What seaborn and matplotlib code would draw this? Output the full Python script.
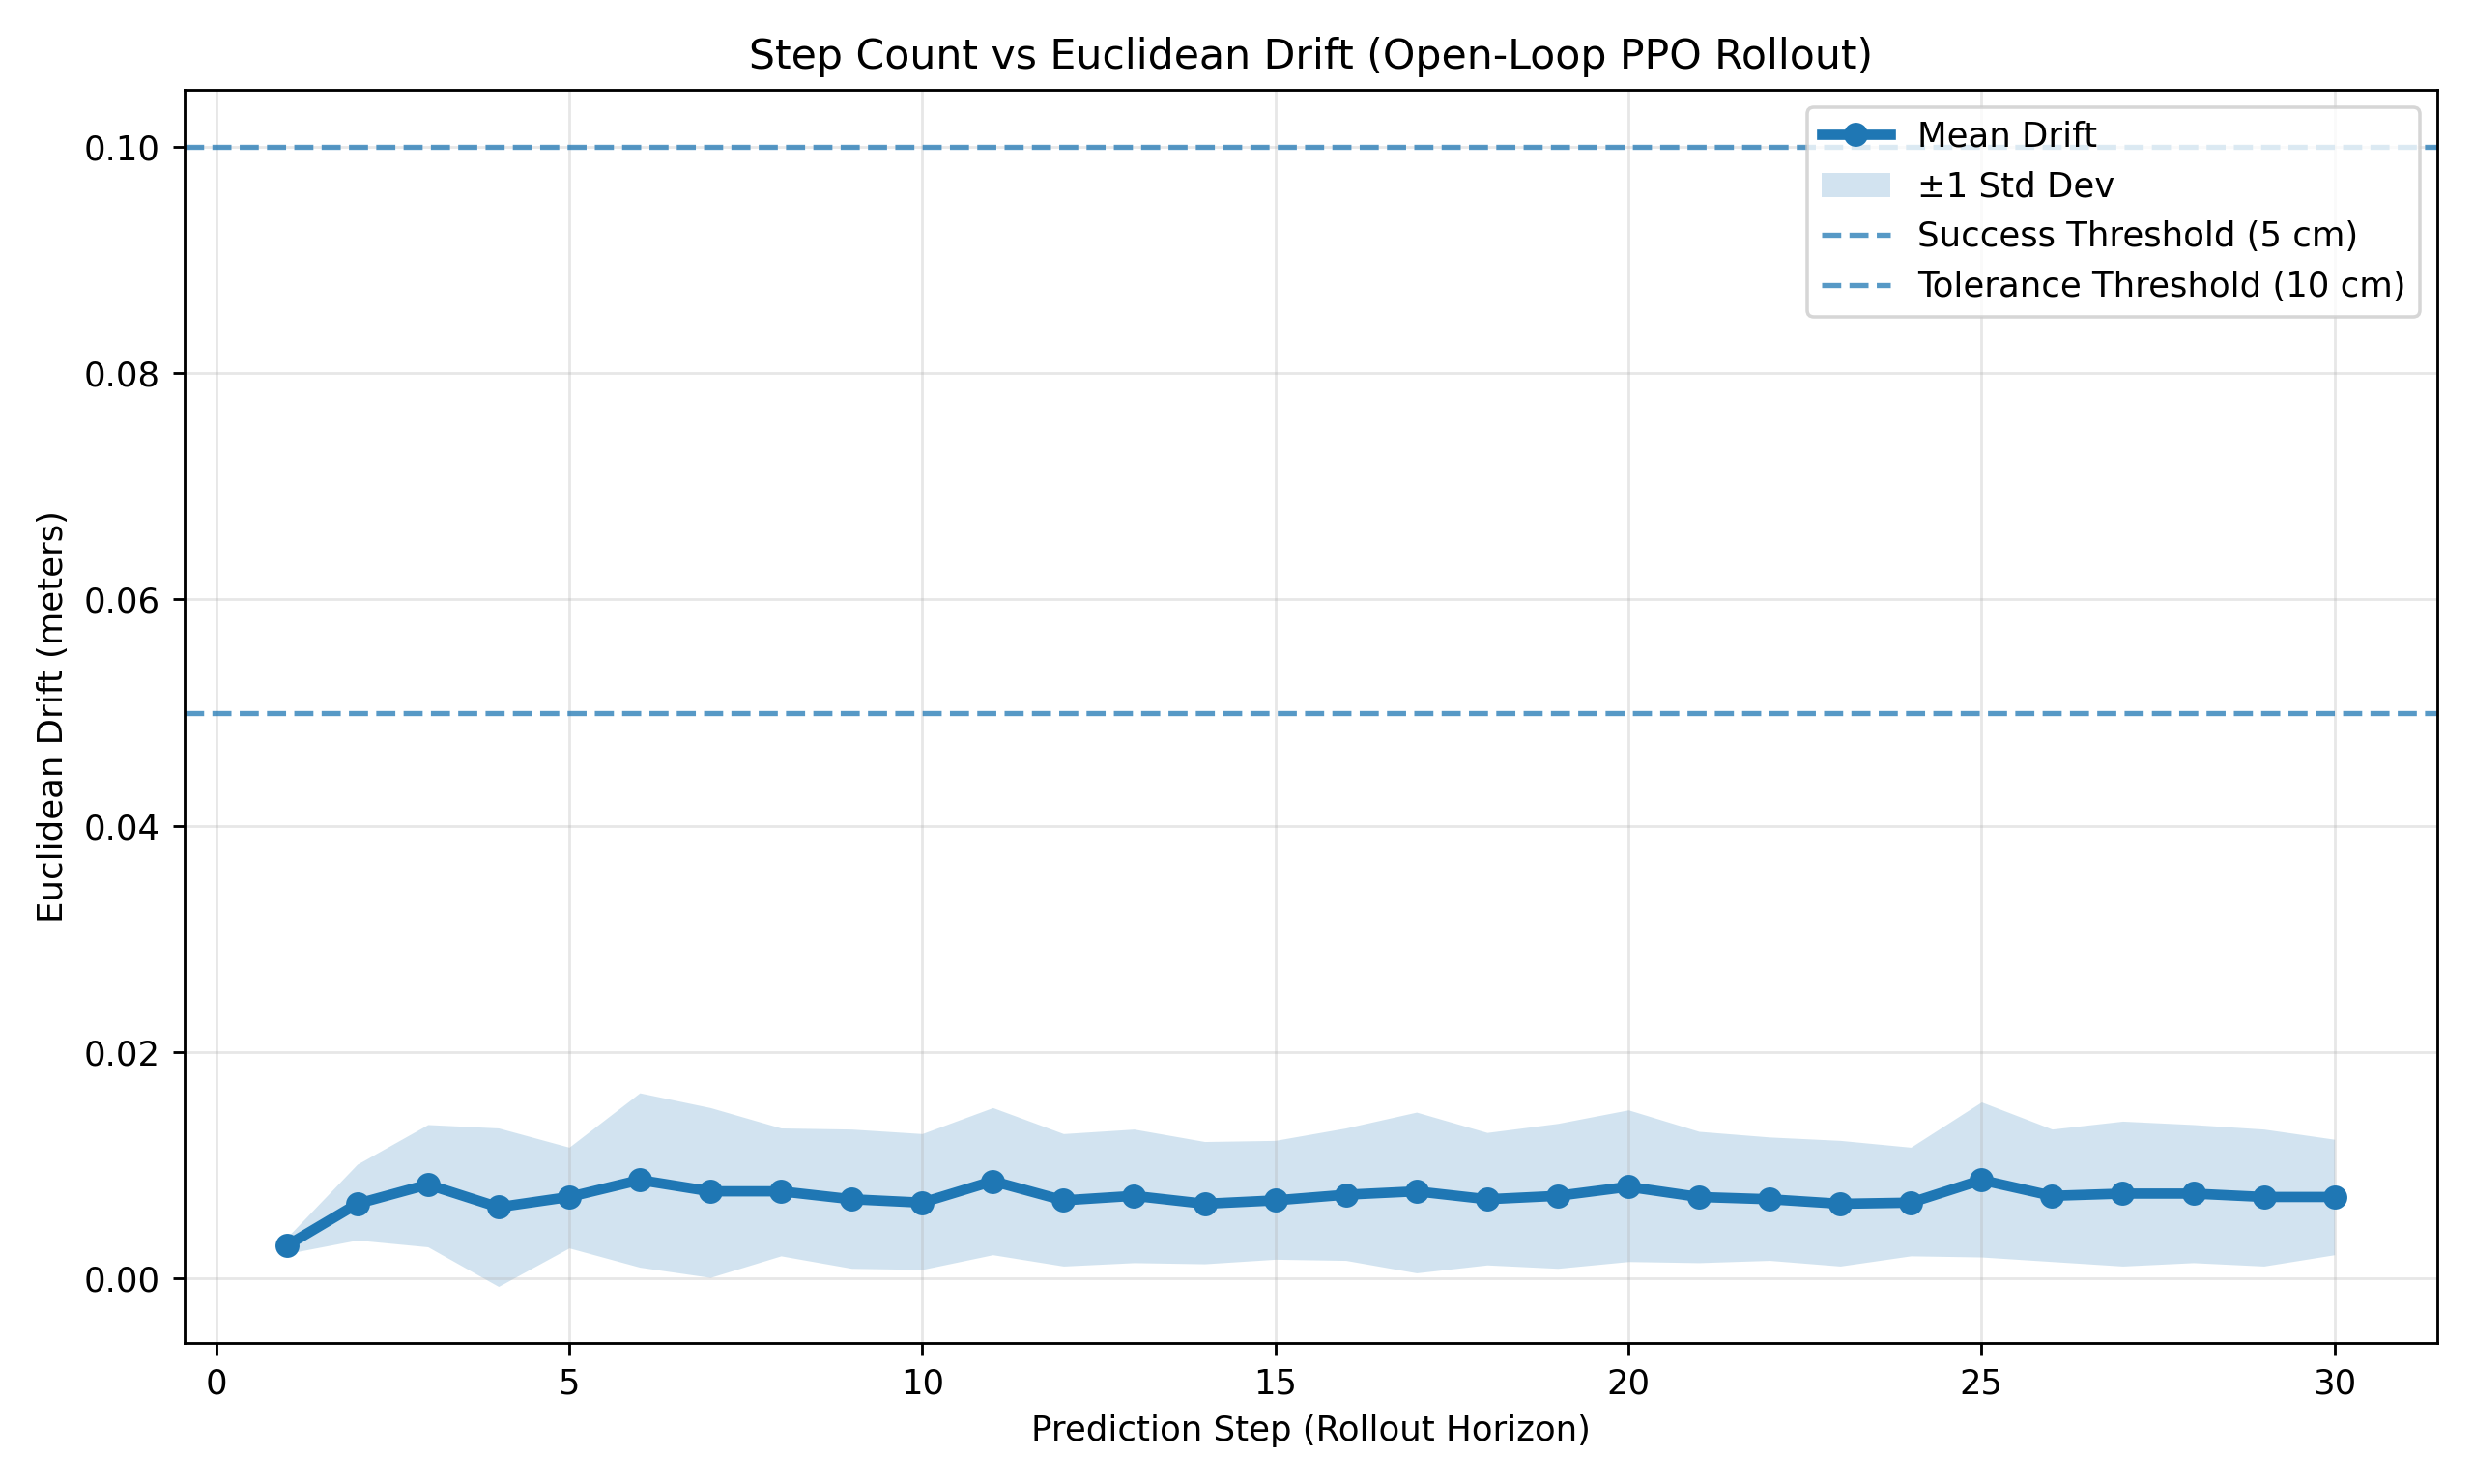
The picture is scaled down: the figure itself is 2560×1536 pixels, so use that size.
import numpy as np
import matplotlib
matplotlib.use("Agg")
import matplotlib.pyplot as plt
import seaborn as sns

steps = list(range(1, 31))
mean_drift = [0.0029, 0.0066, 0.0083, 0.0063, 0.0072, 0.0087, 0.0077, 0.0077, 0.0070, 0.0067,
              0.0086, 0.0069, 0.0073, 0.0066, 0.0069, 0.0074, 0.0077, 0.0070, 0.0073, 0.0081,
              0.0072, 0.0070, 0.0066, 0.0067, 0.0087, 0.0073, 0.0075, 0.0075, 0.0072, 0.0072]
upper = [0.0036, 0.0101, 0.0136, 0.0133, 0.0116, 0.0164, 0.0151, 0.0133, 0.0132, 0.0128,
         0.0151, 0.0128, 0.0132, 0.0121, 0.0122, 0.0133, 0.0147, 0.0129, 0.0137, 0.0149,
         0.0130, 0.0125, 0.0122, 0.0116, 0.0156, 0.0132, 0.0139, 0.0136, 0.0132, 0.0123]
lower = [0.0022, 0.0034, 0.0028, -0.0007, 0.0027, 0.0010, 0.0001, 0.0020, 0.0009, 0.0008,
         0.0021, 0.0011, 0.0014, 0.0013, 0.0017, 0.0016, 0.0005, 0.0012, 0.0009, 0.0015,
         0.0014, 0.0016, 0.0011, 0.0020, 0.0019, 0.0015, 0.0011, 0.0014, 0.0011, 0.0021]

fig, ax = plt.subplots(figsize=(10, 6), dpi=256)
sns.lineplot(x=steps, y=mean_drift, ax=ax, color="#1f77b4", linewidth=3,
             marker="o", markersize=7, markeredgewidth=0, label="Mean Drift")
ax.fill_between(steps, lower, upper, color="#1f77b4", alpha=0.2, linewidth=0, label="±1 Std Dev")
ax.axhline(0.05, color="#1f77b4", linestyle="--", alpha=0.75, linewidth=1.5, label="Success Threshold (5 cm)")
ax.axhline(0.10, color="#1f77b4", linestyle="--", alpha=0.75, linewidth=1.5, label="Tolerance Threshold (10 cm)")

ax.set_title("Step Count vs Euclidean Drift (Open-Loop PPO Rollout)", fontsize=12)
ax.set_xlabel("Prediction Step (Rollout Horizon)")
ax.set_ylabel("Euclidean Drift (meters)")
ax.grid(True, alpha=0.3)
ax.legend(loc="upper right", fontsize=10)
fig.tight_layout()
fig.savefig("out.png")
